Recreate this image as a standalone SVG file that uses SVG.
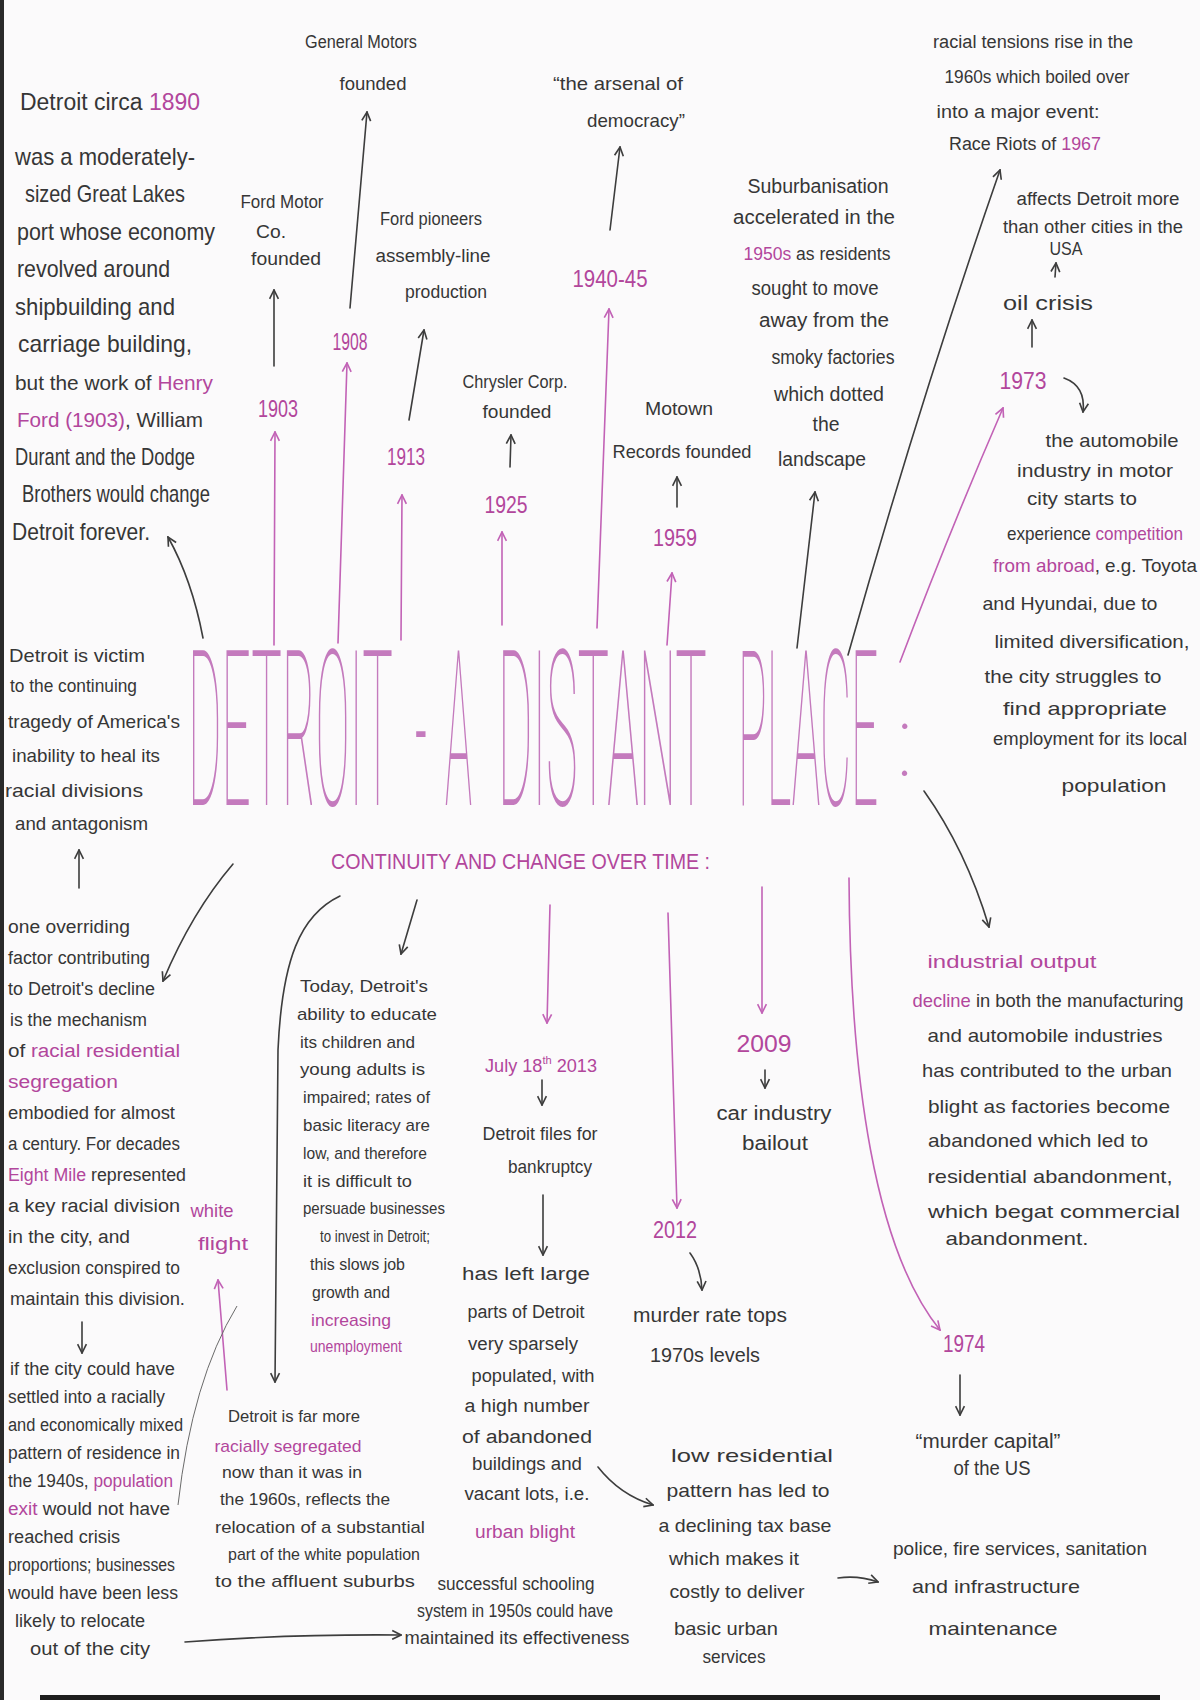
<svg xmlns="http://www.w3.org/2000/svg" width="1200" height="1700" viewBox="0 0 1200 1700">
<defs>
<style>
.t{font-family:"Liberation Sans",Arial,sans-serif;fill:#363636;}
.m{text-anchor:middle;}
.p{fill:#b2469c;}
.title{font-family:Roboto,Lato,Inter,"Noto Sans",sans-serif;font-weight:100;fill:#c47abd;}
.c{fill:none;stroke:#3d3d3d;stroke-width:1.6;stroke-linecap:round;}
.cp{fill:none;stroke:#c262b6;stroke-width:1.6;stroke-linecap:round;}
.thin{fill:none;stroke:#6a6a6a;stroke-width:1;}
</style>
<marker id="ah" viewBox="0 0 10 10" refX="9" refY="5" markerWidth="11" markerHeight="11" markerUnits="userSpaceOnUse" orient="auto"><path d="M1,1 L9,5 L1,9" fill="none" stroke="#3d3d3d" stroke-width="1.5"/></marker>
<marker id="ahp" viewBox="0 0 10 10" refX="9" refY="5" markerWidth="11" markerHeight="11" markerUnits="userSpaceOnUse" orient="auto"><path d="M1,1 L9,5 L1,9" fill="none" stroke="#c262b6" stroke-width="1.5"/></marker>
</defs>
<rect width="1200" height="1700" fill="#fbfafb"/>
<rect x="0" y="0" width="4" height="1700" fill="#2a2a2a"/>
<rect x="40" y="1695" width="1120" height="5" fill="#1e1e1e"/>

<g id="connectors">
<path class="cp" d="M274,645 L275,432" marker-end="url(#ahp)"/>
<path class="cp" d="M338,643 L347,363" marker-end="url(#ahp)"/>
<path class="cp" d="M401,640 L402,495" marker-end="url(#ahp)"/>
<path class="cp" d="M502,625 L502,532" marker-end="url(#ahp)"/>
<path class="cp" d="M597,628 L609,309" marker-end="url(#ahp)"/>
<path class="cp" d="M667,645 L672,573" marker-end="url(#ahp)"/>
<path class="cp" d="M900,662 Q950,530 1003,408" marker-end="url(#ahp)"/>
<path class="c" d="M797,648 L815,492" marker-end="url(#ah)"/>
<path class="c" d="M848,655 Q920,400 1000,170" marker-end="url(#ah)"/>
<path class="c" d="M203,638 Q192,580 168,537" marker-end="url(#ah)"/>
<path class="c" d="M274,366 L274,290" marker-end="url(#ah)"/>
<path class="c" d="M350,308 L367,112" marker-end="url(#ah)"/>
<path class="c" d="M409,420 L424,330" marker-end="url(#ah)"/>
<path class="c" d="M510,467 L511,435" marker-end="url(#ah)"/>
<path class="c" d="M610,230 L620,147" marker-end="url(#ah)"/>
<path class="c" d="M677,507 L677,477" marker-end="url(#ah)"/>
<path class="c" d="M1032,347 L1032,320" marker-end="url(#ah)"/>
<path class="c" d="M1055,277 L1056,263" marker-end="url(#ah)"/>
<path class="c" d="M1064,378 Q1086,386 1083,412" marker-end="url(#ah)"/>
<path class="c" d="M79,888 L79,850" marker-end="url(#ah)"/>
<path class="c" d="M233,864 Q192,912 163,981" marker-end="url(#ah)"/>
<path class="c" d="M82,1322 L82,1353" marker-end="url(#ah)"/>
<path class="cp" d="M227,1390 L218,1280" marker-end="url(#ahp)"/>
<path class="thin" d="M237,1306 Q192,1380 178,1505"/>
<path class="c" d="M340,896 C300,915 282,960 278,1050 L275,1382" marker-end="url(#ah)"/>
<path class="c" d="M185,1642 Q290,1634 401,1635" marker-end="url(#ah)"/>
<path class="c" d="M417,900 L401,954" marker-end="url(#ah)"/>
<path class="cp" d="M550,905 L547,1023" marker-end="url(#ahp)"/>
<path class="c" d="M542,1080 L542,1105" marker-end="url(#ah)"/>
<path class="c" d="M543,1195 L543,1255" marker-end="url(#ah)"/>
<path class="c" d="M598,1467 Q620,1495 653,1505" marker-end="url(#ah)"/>
<path class="cp" d="M668,913 L677,1208" marker-end="url(#ahp)"/>
<path class="c" d="M690,1253 Q701,1268 702,1290" marker-end="url(#ah)"/>
<path class="cp" d="M762,887 L762,1013" marker-end="url(#ahp)"/>
<path class="c" d="M765,1070 L765,1088" marker-end="url(#ah)"/>
<path class="c" d="M838,1578 Q858,1575 878,1582" marker-end="url(#ah)"/>
<path class="c" d="M924,791 Q966,850 989,927" marker-end="url(#ah)"/>
<path class="cp" d="M849,878 C850,1080 875,1250 940,1330" marker-end="url(#ahp)"/>
<path class="c" d="M960,1375 L960,1415" marker-end="url(#ah)"/>
</g>

<g id="n-title">
<text class="title" transform="translate(188,805) scale(0.235,1)" font-size="217" textLength="872" lengthAdjust="spacingAndGlyphs">DETROIT</text>
<text class="title" transform="translate(415,805) scale(0.235,1)" font-size="217" textLength="51" lengthAdjust="spacingAndGlyphs">-</text>
<text class="title" transform="translate(445,805) scale(0.235,1)" font-size="217" textLength="115" lengthAdjust="spacingAndGlyphs">A</text>
<text class="title" transform="translate(498,805) scale(0.235,1)" font-size="217" textLength="889" lengthAdjust="spacingAndGlyphs">DISTANT</text>
<text class="title" transform="translate(738,805) scale(0.235,1)" font-size="217" textLength="596" lengthAdjust="spacingAndGlyphs">PLACE</text>
<text class="title m" x="905" y="776" font-size="100">:</text>
</g>
<g id="n-subtitle">
<text class="t p" x="331" y="869" font-size="22" textLength="379" lengthAdjust="spacingAndGlyphs">CONTINUITY AND CHANGE OVER TIME :</text>
</g>

<g id="n-detroit1890" class="t" font-size="24">
<text x="20" y="110" font-size="23" textLength="180" lengthAdjust="spacingAndGlyphs">Detroit circa <tspan class="p">1890</tspan></text>
<text x="15" y="165" textLength="180" lengthAdjust="spacingAndGlyphs">was a moderately-</text>
<text x="25" y="202" textLength="160" lengthAdjust="spacingAndGlyphs">sized Great Lakes</text>
<text x="17" y="240" textLength="198" lengthAdjust="spacingAndGlyphs">port whose economy</text>
<text x="17" y="277" textLength="153" lengthAdjust="spacingAndGlyphs">revolved around</text>
<text x="15" y="315" textLength="160" lengthAdjust="spacingAndGlyphs">shipbuilding and</text>
<text x="18" y="352" textLength="174" lengthAdjust="spacingAndGlyphs">carriage building,</text>
<text x="15" y="390" font-size="21" textLength="198" lengthAdjust="spacingAndGlyphs">but the work of <tspan class="p">Henry</tspan></text>
<text x="17" y="427" font-size="21" textLength="186" lengthAdjust="spacingAndGlyphs"><tspan class="p">Ford (1903)</tspan>, William</text>
<text x="15" y="465" textLength="180" lengthAdjust="spacingAndGlyphs">Durant and the Dodge</text>
<text x="22" y="502" textLength="188" lengthAdjust="spacingAndGlyphs">Brothers would change</text>
<text x="12" y="540" textLength="138" lengthAdjust="spacingAndGlyphs">Detroit forever.</text>
</g>

<g id="n-gm" class="t m" font-size="18">
<text x="361" y="48" textLength="112" lengthAdjust="spacingAndGlyphs">General Motors</text>
<text x="373" y="90" textLength="67" lengthAdjust="spacingAndGlyphs">founded</text>
</g>
<g id="n-fordmotor" class="t m" font-size="18">
<text x="282" y="208" textLength="83" lengthAdjust="spacingAndGlyphs">Ford Motor</text>
<text x="271" y="238" textLength="30" lengthAdjust="spacingAndGlyphs">Co.</text>
<text x="286" y="265" textLength="70" lengthAdjust="spacingAndGlyphs">founded</text>
</g>
<g id="n-1903" class="t m p" font-size="24"><text x="278" y="417" textLength="40" lengthAdjust="spacingAndGlyphs">1903</text></g>
<g id="n-1908" class="t m p" font-size="24"><text x="350" y="350" textLength="35" lengthAdjust="spacingAndGlyphs">1908</text></g>
<g id="n-1913" class="t m p" font-size="24"><text x="406" y="465" textLength="38" lengthAdjust="spacingAndGlyphs">1913</text></g>
<g id="n-fordpioneers" class="t m" font-size="18">
<text x="431" y="225" textLength="102" lengthAdjust="spacingAndGlyphs">Ford pioneers</text>
<text x="433" y="262" textLength="115" lengthAdjust="spacingAndGlyphs">assembly-line</text>
<text x="446" y="298" textLength="82" lengthAdjust="spacingAndGlyphs">production</text>
</g>
<g id="n-1925" class="t m p" font-size="24"><text x="506" y="513" textLength="43" lengthAdjust="spacingAndGlyphs">1925</text></g>
<g id="n-chrysler" class="t m" font-size="18">
<text x="515" y="388" textLength="105" lengthAdjust="spacingAndGlyphs">Chrysler Corp.</text>
<text x="517" y="418" textLength="69" lengthAdjust="spacingAndGlyphs">founded</text>
</g>
<g id="n-1940" class="t m p" font-size="24"><text x="610" y="287" textLength="75" lengthAdjust="spacingAndGlyphs">1940-45</text></g>
<g id="n-arsenal" class="t m" font-size="19">
<text x="618" y="90" textLength="130" lengthAdjust="spacingAndGlyphs">“the arsenal of</text>
<text x="636" y="127" textLength="98" lengthAdjust="spacingAndGlyphs">democracy”</text>
</g>
<g id="n-1959" class="t m p" font-size="24"><text x="675" y="546" textLength="44" lengthAdjust="spacingAndGlyphs">1959</text></g>
<g id="n-motown" class="t m" font-size="19">
<text x="679" y="415" textLength="68" lengthAdjust="spacingAndGlyphs">Motown</text>
<text x="682" y="458" textLength="139" lengthAdjust="spacingAndGlyphs">Records founded</text>
</g>
<g id="n-suburb" class="t m" font-size="20">
<text x="818" y="193" textLength="141" lengthAdjust="spacingAndGlyphs">Suburbanisation</text>
<text x="814" y="224" textLength="162" lengthAdjust="spacingAndGlyphs">accelerated in the</text>
<text x="817" y="260" font-size="17.5" textLength="147" lengthAdjust="spacingAndGlyphs"><tspan class="p">1950s</tspan> as residents</text>
<text x="815" y="295" textLength="127" lengthAdjust="spacingAndGlyphs">sought to move</text>
<text x="824" y="327" textLength="130" lengthAdjust="spacingAndGlyphs">away from the</text>
<text x="833" y="364" textLength="123" lengthAdjust="spacingAndGlyphs">smoky factories</text>
<text x="829" y="401" textLength="110" lengthAdjust="spacingAndGlyphs">which dotted</text>
<text x="826" y="431" textLength="27" lengthAdjust="spacingAndGlyphs">the</text>
<text x="822" y="466" textLength="88" lengthAdjust="spacingAndGlyphs">landscape</text>
</g>
<g id="n-racial" class="t m" font-size="18">
<text x="1033" y="48" textLength="200" lengthAdjust="spacingAndGlyphs">racial tensions rise in the</text>
<text x="1037" y="83" textLength="185" lengthAdjust="spacingAndGlyphs">1960s which boiled over</text>
<text x="1018" y="118" textLength="163" lengthAdjust="spacingAndGlyphs">into a major event:</text>
<text x="1025" y="150" textLength="152" lengthAdjust="spacingAndGlyphs">Race Riots of <tspan class="p">1967</tspan></text>
</g>
<g id="n-affects" class="t m" font-size="18">
<text x="1098" y="205" textLength="163" lengthAdjust="spacingAndGlyphs">affects Detroit more</text>
<text x="1093" y="233" textLength="180" lengthAdjust="spacingAndGlyphs">than other cities in the</text>
<text x="1066" y="255" textLength="33" lengthAdjust="spacingAndGlyphs">USA</text>
</g>
<g id="n-oil" class="t m" font-size="21"><text x="1048" y="310" textLength="90" lengthAdjust="spacingAndGlyphs">oil crisis</text></g>
<g id="n-1973" class="t m p" font-size="24"><text x="1023" y="389" textLength="47" lengthAdjust="spacingAndGlyphs">1973</text></g>
<g id="n-automobile" class="t m" font-size="19">
<text x="1112" y="447" textLength="133" lengthAdjust="spacingAndGlyphs">the automobile</text>
<text x="1095" y="477" textLength="156" lengthAdjust="spacingAndGlyphs">industry in motor</text>
<text x="1082" y="505" textLength="110" lengthAdjust="spacingAndGlyphs">city starts to</text>
<text x="1095" y="540" textLength="176" lengthAdjust="spacingAndGlyphs">experience <tspan class="p">competition</tspan></text>
<text x="1095" y="572" textLength="204" lengthAdjust="spacingAndGlyphs"><tspan class="p">from abroad</tspan>, e.g. Toyota</text>
<text x="1070" y="610" textLength="175" lengthAdjust="spacingAndGlyphs">and Hyundai, due to</text>
<text x="1092" y="648" textLength="195" lengthAdjust="spacingAndGlyphs">limited diversification,</text>
<text x="1073" y="683" textLength="177" lengthAdjust="spacingAndGlyphs">the city struggles to</text>
<text x="1085" y="715" textLength="164" lengthAdjust="spacingAndGlyphs">find appropriate</text>
<text x="1090" y="745" textLength="194" lengthAdjust="spacingAndGlyphs">employment for its local</text>
<text x="1114" y="792" textLength="105" lengthAdjust="spacingAndGlyphs">population</text>
</g>

<g id="n-victim" class="t" font-size="19">
<text x="9" y="662" textLength="136" lengthAdjust="spacingAndGlyphs">Detroit is victim</text>
<text x="10" y="692" textLength="127" lengthAdjust="spacingAndGlyphs">to the continuing</text>
<text x="8" y="728" textLength="172" lengthAdjust="spacingAndGlyphs">tragedy of America's</text>
<text x="12" y="762" textLength="148" lengthAdjust="spacingAndGlyphs">inability to heal its</text>
<text x="5" y="797" textLength="138" lengthAdjust="spacingAndGlyphs">racial divisions</text>
<text x="15" y="830" textLength="133" lengthAdjust="spacingAndGlyphs">and antagonism</text>
</g>
<g id="n-overriding" class="t" font-size="18">
<text x="8" y="933" textLength="122" lengthAdjust="spacingAndGlyphs">one overriding</text>
<text x="8" y="964" textLength="142" lengthAdjust="spacingAndGlyphs">factor contributing</text>
<text x="8" y="995" textLength="147" lengthAdjust="spacingAndGlyphs">to Detroit's decline</text>
<text x="10" y="1026" textLength="137" lengthAdjust="spacingAndGlyphs">is the mechanism</text>
<text x="8" y="1057" textLength="172" lengthAdjust="spacingAndGlyphs">of <tspan class="p">racial residential</tspan></text>
<text x="8" y="1088" textLength="110" lengthAdjust="spacingAndGlyphs" class="p">segregation</text>
<text x="8" y="1119" textLength="167" lengthAdjust="spacingAndGlyphs">embodied for almost</text>
<text x="8" y="1150" textLength="172" lengthAdjust="spacingAndGlyphs">a century. For decades</text>
<text x="8" y="1181" textLength="178" lengthAdjust="spacingAndGlyphs"><tspan class="p">Eight Mile</tspan> represented</text>
<text x="8" y="1212" textLength="172" lengthAdjust="spacingAndGlyphs">a key racial division</text>
<text x="8" y="1243" textLength="122" lengthAdjust="spacingAndGlyphs">in the city, and</text>
<text x="8" y="1274" textLength="172" lengthAdjust="spacingAndGlyphs">exclusion conspired to</text>
<text x="10" y="1305" textLength="175" lengthAdjust="spacingAndGlyphs">maintain this division.</text>
</g>
<g id="n-ifcity" class="t" font-size="18">
<text x="10" y="1375" textLength="165" lengthAdjust="spacingAndGlyphs">if the city could have</text>
<text x="8" y="1403" textLength="157" lengthAdjust="spacingAndGlyphs">settled into a racially</text>
<text x="8" y="1431" textLength="175" lengthAdjust="spacingAndGlyphs">and economically mixed</text>
<text x="8" y="1459" textLength="172" lengthAdjust="spacingAndGlyphs">pattern of residence in</text>
<text x="8" y="1487" textLength="165" lengthAdjust="spacingAndGlyphs">the 1940s, <tspan class="p">population</tspan></text>
<text x="8" y="1515" textLength="162" lengthAdjust="spacingAndGlyphs"><tspan class="p">exit</tspan> would not have</text>
<text x="8" y="1543" textLength="112" lengthAdjust="spacingAndGlyphs">reached crisis</text>
<text x="8" y="1571" textLength="167" lengthAdjust="spacingAndGlyphs">proportions; businesses</text>
<text x="8" y="1599" textLength="170" lengthAdjust="spacingAndGlyphs">would have been less</text>
<text x="15" y="1627" textLength="130" lengthAdjust="spacingAndGlyphs">likely to relocate</text>
<text x="30" y="1655" textLength="120" lengthAdjust="spacingAndGlyphs">out of the city</text>
</g>
<g id="n-whiteflight" class="t m p" font-size="19">
<text x="212" y="1217" textLength="43" lengthAdjust="spacingAndGlyphs">white</text>
<text x="223" y="1250" textLength="50" lengthAdjust="spacingAndGlyphs">flight</text>
</g>
<g id="n-farmore" class="t m" font-size="17">
<text x="294" y="1422" textLength="132" lengthAdjust="spacingAndGlyphs">Detroit is far more</text>
<text x="288" y="1452" textLength="147" lengthAdjust="spacingAndGlyphs" class="p">racially segregated</text>
<text x="292" y="1478" textLength="140" lengthAdjust="spacingAndGlyphs">now than it was in</text>
<text x="305" y="1505" textLength="170" lengthAdjust="spacingAndGlyphs">the 1960s, reflects the</text>
<text x="320" y="1533" textLength="210" lengthAdjust="spacingAndGlyphs">relocation of a substantial</text>
<text x="324" y="1560" textLength="192" lengthAdjust="spacingAndGlyphs">part of the white population</text>
<text x="315" y="1587" textLength="200" lengthAdjust="spacingAndGlyphs">to the affluent suburbs</text>
</g>
<g id="n-today" class="t" font-size="17">
<text x="300" y="992" textLength="128" lengthAdjust="spacingAndGlyphs">Today, Detroit's</text>
<text x="297" y="1020" textLength="140" lengthAdjust="spacingAndGlyphs">ability to educate</text>
<text x="300" y="1048" textLength="115" lengthAdjust="spacingAndGlyphs">its children and</text>
<text x="300" y="1075" textLength="125" lengthAdjust="spacingAndGlyphs">young adults is</text>
<text x="303" y="1103" textLength="127" lengthAdjust="spacingAndGlyphs">impaired; rates of</text>
<text x="303" y="1131" textLength="127" lengthAdjust="spacingAndGlyphs">basic literacy are</text>
<text x="303" y="1159" textLength="124" lengthAdjust="spacingAndGlyphs">low, and therefore</text>
<text x="303" y="1187" textLength="109" lengthAdjust="spacingAndGlyphs">it is difficult to</text>
<text x="303" y="1214" textLength="142" lengthAdjust="spacingAndGlyphs">persuade businesses</text>
<text x="320" y="1242" textLength="110" lengthAdjust="spacingAndGlyphs">to invest in Detroit;</text>
<text x="310" y="1270" textLength="95" lengthAdjust="spacingAndGlyphs">this slows job</text>
<text x="312" y="1298" textLength="78" lengthAdjust="spacingAndGlyphs">growth and</text>
<text x="311" y="1326" textLength="80" lengthAdjust="spacingAndGlyphs" class="p">increasing</text>
<text x="310" y="1352" textLength="92" lengthAdjust="spacingAndGlyphs" class="p">unemployment</text>
</g>
<g id="n-july" class="t m p" font-size="18">
<text x="541" y="1072" textLength="112" lengthAdjust="spacingAndGlyphs">July 18<tspan font-size="11" dy="-8">th</tspan><tspan dy="8"> 2013</tspan></text>
</g>
<g id="n-files" class="t m" font-size="19">
<text x="540" y="1140" textLength="115" lengthAdjust="spacingAndGlyphs">Detroit files for</text>
<text x="550" y="1173" textLength="84" lengthAdjust="spacingAndGlyphs">bankruptcy</text>
</g>
<g id="n-hasleft" class="t m" font-size="18">
<text x="526" y="1280" textLength="128" lengthAdjust="spacingAndGlyphs">has left large</text>
<text x="526" y="1318" textLength="117" lengthAdjust="spacingAndGlyphs">parts of Detroit</text>
<text x="523" y="1350" textLength="110" lengthAdjust="spacingAndGlyphs">very sparsely</text>
<text x="533" y="1382" textLength="123" lengthAdjust="spacingAndGlyphs">populated, with</text>
<text x="527" y="1412" textLength="125" lengthAdjust="spacingAndGlyphs">a high number</text>
<text x="527" y="1443" textLength="130" lengthAdjust="spacingAndGlyphs">of abandoned</text>
<text x="527" y="1470" textLength="110" lengthAdjust="spacingAndGlyphs">buildings and</text>
<text x="527" y="1500" textLength="125" lengthAdjust="spacingAndGlyphs">vacant lots, i.e.</text>
<text x="525" y="1538" textLength="100" lengthAdjust="spacingAndGlyphs" class="p">urban blight</text>
</g>
<g id="n-schooling" class="t m" font-size="18">
<text x="516" y="1590" textLength="157" lengthAdjust="spacingAndGlyphs">successful schooling</text>
<text x="515" y="1617" textLength="196" lengthAdjust="spacingAndGlyphs">system in 1950s could have</text>
<text x="517" y="1644" textLength="225" lengthAdjust="spacingAndGlyphs">maintained its effectiveness</text>
</g>
<g id="n-2012" class="t m p" font-size="24"><text x="675" y="1238" textLength="44" lengthAdjust="spacingAndGlyphs">2012</text></g>
<g id="n-murderrate" class="t m" font-size="21">
<text x="710" y="1322" textLength="154" lengthAdjust="spacingAndGlyphs">murder rate tops</text>
<text x="705" y="1362" textLength="110" lengthAdjust="spacingAndGlyphs">1970s levels</text>
</g>
<g id="n-2009" class="t m p" font-size="24"><text x="764" y="1052" textLength="55" lengthAdjust="spacingAndGlyphs">2009</text></g>
<g id="n-car" class="t m" font-size="20">
<text x="774" y="1120" textLength="115" lengthAdjust="spacingAndGlyphs">car industry</text>
<text x="775" y="1150" textLength="66" lengthAdjust="spacingAndGlyphs">bailout</text>
</g>
<g id="n-lowres" class="t m" font-size="19">
<text x="752" y="1462" textLength="162" lengthAdjust="spacingAndGlyphs">low residential</text>
<text x="748" y="1497" textLength="163" lengthAdjust="spacingAndGlyphs">pattern has led to</text>
<text x="745" y="1532" textLength="173" lengthAdjust="spacingAndGlyphs">a declining tax base</text>
<text x="734" y="1565" textLength="130" lengthAdjust="spacingAndGlyphs">which makes it</text>
<text x="737" y="1598" textLength="135" lengthAdjust="spacingAndGlyphs">costly to deliver</text>
<text x="726" y="1635" textLength="104" lengthAdjust="spacingAndGlyphs">basic urban</text>
<text x="734" y="1663" textLength="63" lengthAdjust="spacingAndGlyphs">services</text>
</g>
<g id="n-police" class="t m" font-size="19">
<text x="1020" y="1555" textLength="254" lengthAdjust="spacingAndGlyphs">police, fire services, sanitation</text>
<text x="996" y="1593" textLength="168" lengthAdjust="spacingAndGlyphs">and infrastructure</text>
<text x="993" y="1635" textLength="129" lengthAdjust="spacingAndGlyphs">maintenance</text>
</g>
<g id="n-1974" class="t m p" font-size="24"><text x="964" y="1352" textLength="42" lengthAdjust="spacingAndGlyphs">1974</text></g>
<g id="n-murdercap" class="t m" font-size="20">
<text x="988" y="1448" textLength="145" lengthAdjust="spacingAndGlyphs">“murder capital”</text>
<text x="992" y="1475" textLength="77" lengthAdjust="spacingAndGlyphs">of the US</text>
</g>
<g id="n-industrial" class="t m" font-size="19">
<text x="1012" y="968" textLength="169" lengthAdjust="spacingAndGlyphs" class="p">industrial output</text>
<text x="1048" y="1007" textLength="271" lengthAdjust="spacingAndGlyphs"><tspan class="p">decline</tspan> in both the manufacturing</text>
<text x="1045" y="1042" textLength="235" lengthAdjust="spacingAndGlyphs">and automobile industries</text>
<text x="1047" y="1077" textLength="250" lengthAdjust="spacingAndGlyphs">has contributed to the urban</text>
<text x="1049" y="1113" textLength="242" lengthAdjust="spacingAndGlyphs">blight as factories become</text>
<text x="1038" y="1147" textLength="220" lengthAdjust="spacingAndGlyphs">abandoned which led to</text>
<text x="1050" y="1183" textLength="245" lengthAdjust="spacingAndGlyphs">residential abandonment,</text>
<text x="1054" y="1218" textLength="252" lengthAdjust="spacingAndGlyphs">which begat commercial</text>
<text x="1017" y="1245" textLength="143" lengthAdjust="spacingAndGlyphs">abandonment.</text>
</g>
</svg>
